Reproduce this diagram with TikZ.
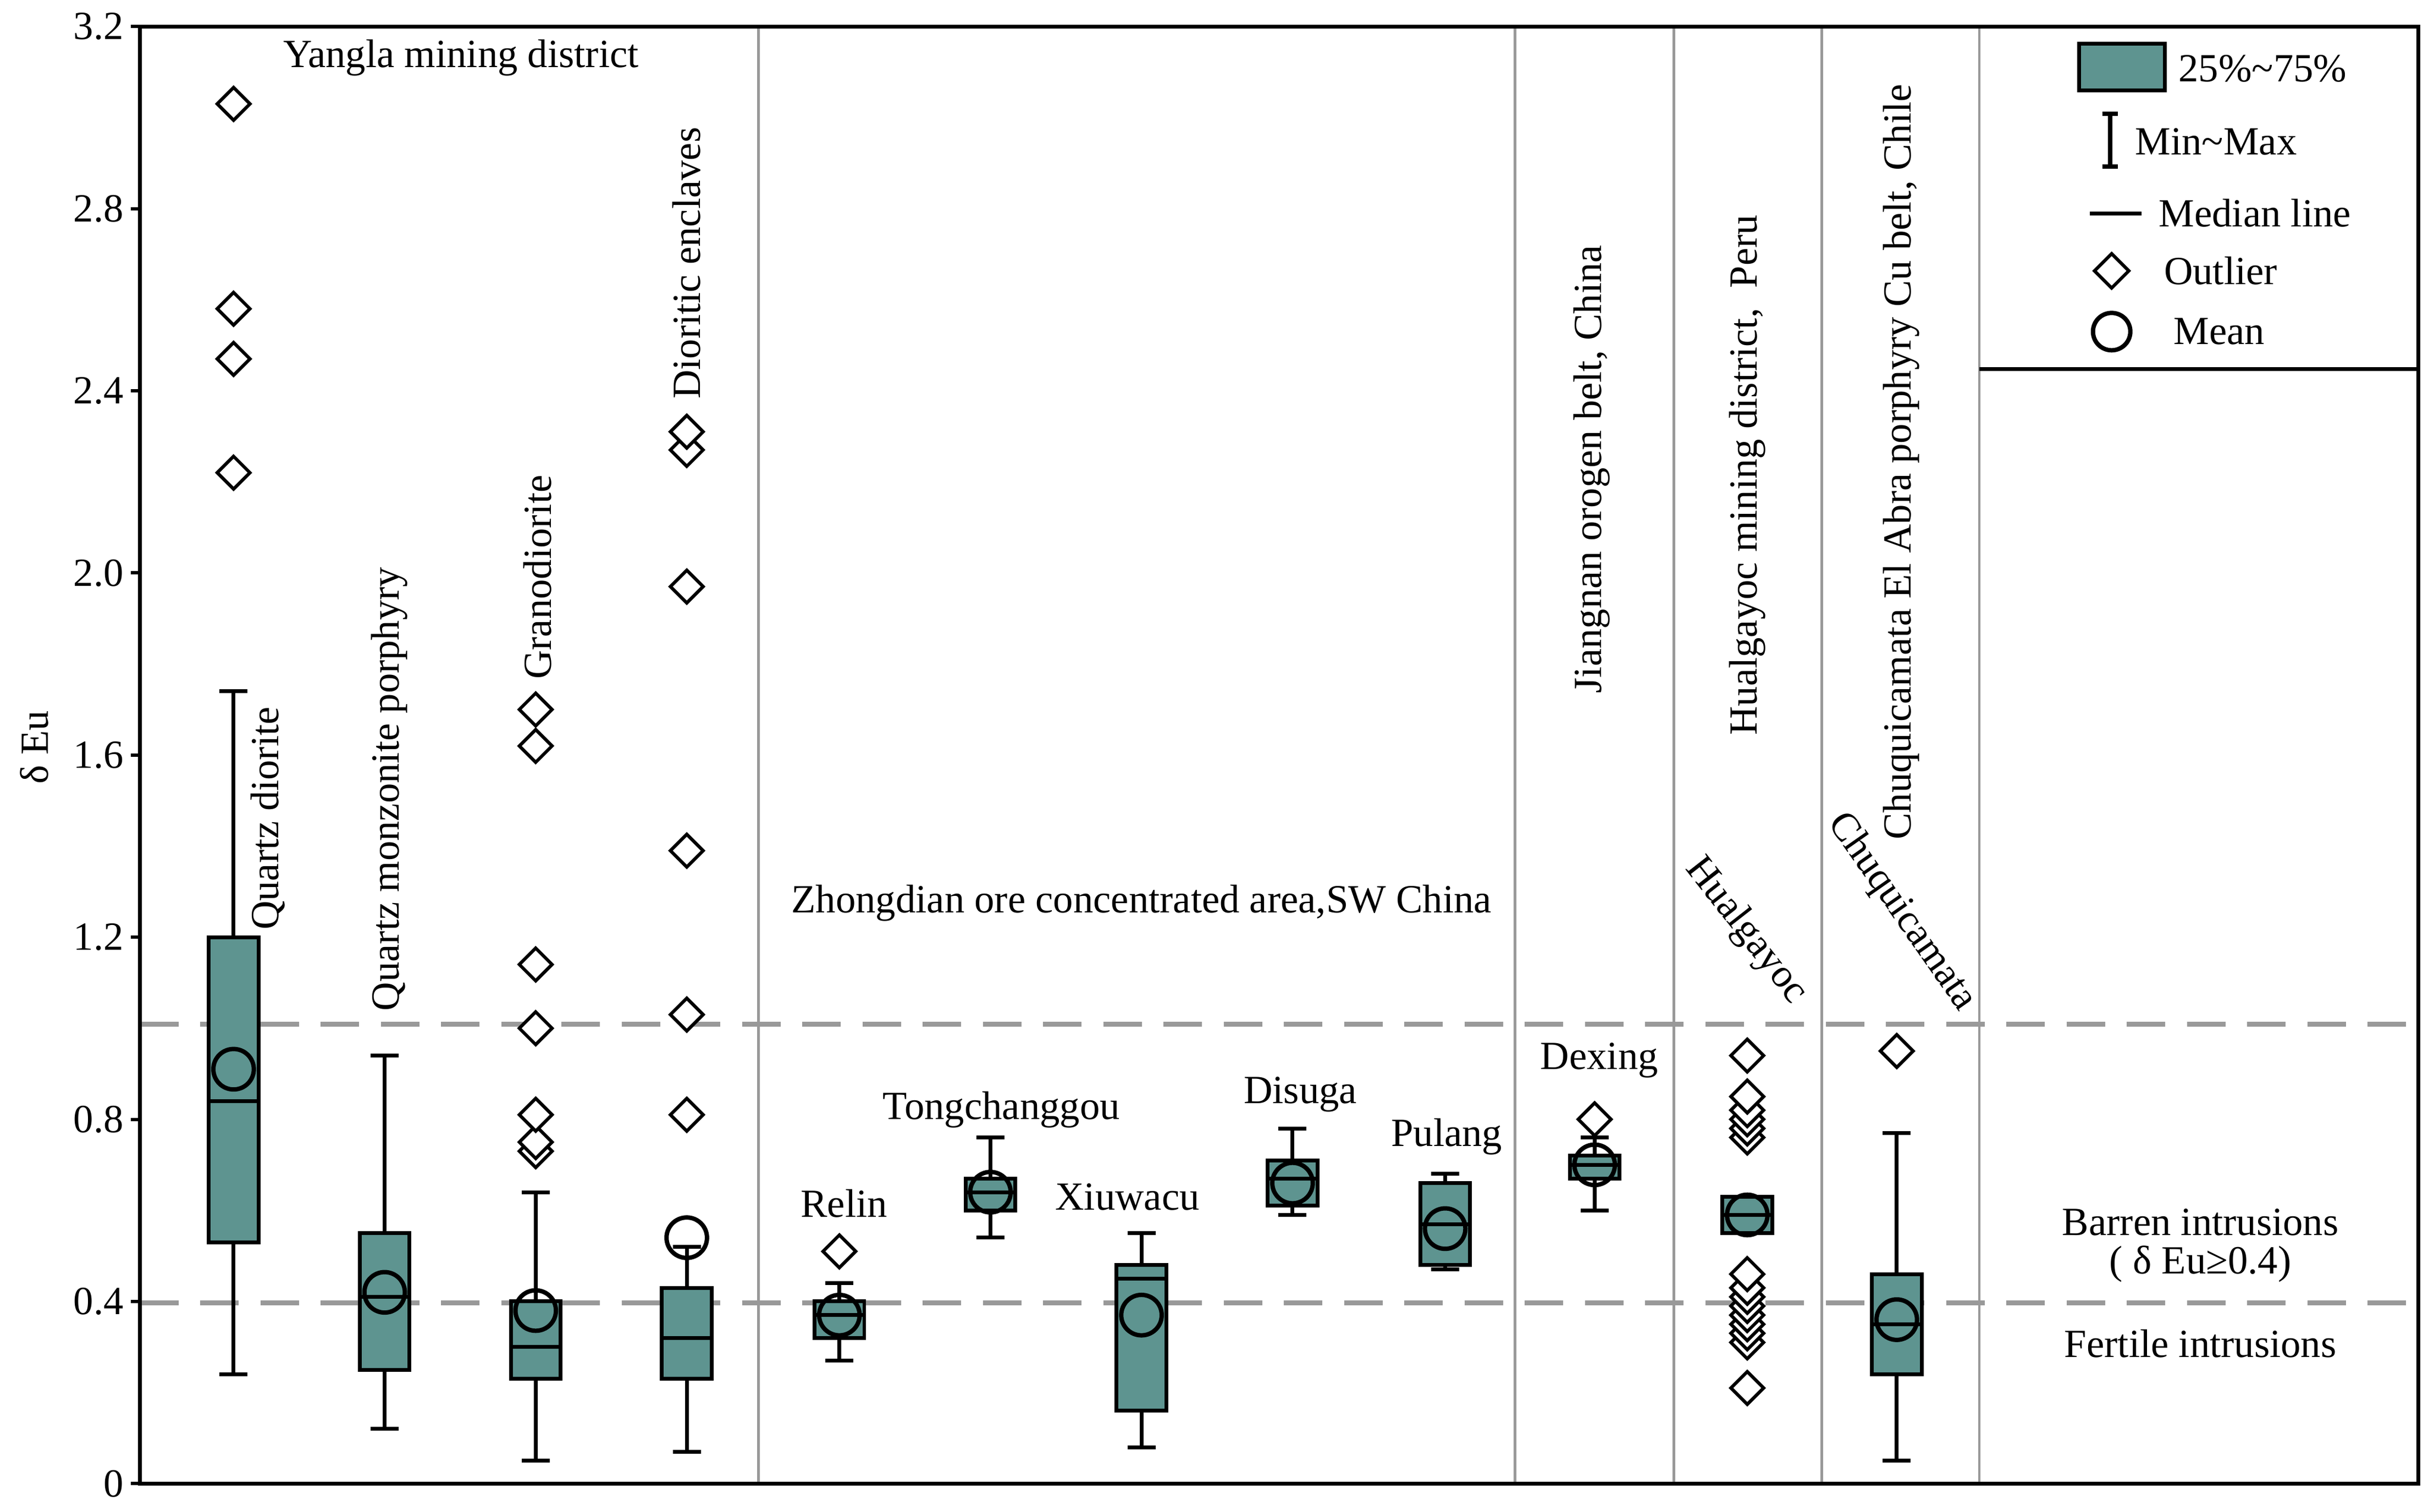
\documentclass[tikz,border=0pt]{standalone}
\usepackage{fontspec}
\setmainfont{Liberation Serif}
\begin{document}
\definecolor{teal2}{HTML}{5E9490}
\begin{tikzpicture}[x=0.1mm,y=-0.1mm,
 lab/.style={font=\fontsize{7.3}{8}\selectfont,inner sep=0pt},
 sep/.style={draw=black!40,line width=0.5pt},
 gdash/.style={draw=black!40,line width=0.9pt,dash pattern=on 7pt off 4pt},
 box/.style={fill=teal2,draw=black,line width=0.7pt},
 od/.style={draw=black,line width=0.6pt,fill=white},
]
\useasboundingbox (0,0) rectangle (1563,971);
\newcommand{\outl}[2]{\draw[od] (#1,{953-292.5*(#2)-10.5}) -- ++(10.5,10.5) -- ++(-10.5,10.5) -- ++(-10.5,-10.5) -- cycle;}
\newcommand{\mybox}[7]{%
 \draw[line width=0.7pt] (#1,{953-292.5*(#2)}) -- (#1,{953-292.5*(#3)});
 \draw[line width=0.7pt] (#1-9,{953-292.5*(#2)}) -- (#1+9,{953-292.5*(#2)});
 \draw[line width=0.7pt] (#1-9,{953-292.5*(#3)}) -- (#1+9,{953-292.5*(#3)});
 \draw[box] (#1-16,{953-292.5*(#4)}) rectangle (#1+16,{953-292.5*(#5)});
 \draw[line width=0.7pt] (#1-16,{953-292.5*(#6)}) -- (#1+16,{953-292.5*(#6)});
 \draw[line width=0.8pt] (#1,{953-292.5*(#7)}) circle (13);}
% frame
\draw[sep] (487,17) -- (487,953) (973,17) -- (973,953) (1075,17) -- (1075,953) (1170,17) -- (1170,953) (1271,17) -- (1271,953);
\draw[gdash] (90,658) -- (1553,658);
\draw[gdash] (90,837) -- (1553,837);
\draw[line width=0.7pt] (90,17) rectangle (1553,953);
\draw[line width=0.7pt] (1271,237) -- (1553,237);
\foreach \v/\t in {0/0,0.4/0.4,0.8/0.8,1.2/1.2,1.6/1.6,2.0/2.0,2.4/2.4,2.8/2.8,3.2/3.2}{
 \draw[line width=0.6pt] (90,{953-292.5*\v}) -- (84,{953-292.5*\v});
 \node[lab,anchor=east] (t\v) at (80,{953-292.5*\v}) {\t};}
\node[lab,rotate=90] (ylab) at (22,480) {δ Eu};
% boxes
\mybox{150}{0.24}{1.74}{0.53}{1.20}{0.84}{0.91}
\foreach \o in {2.22,2.47,2.58,3.03}{\outl{150}{\o}}
\mybox{247}{0.12}{0.94}{0.25}{0.55}{0.41}{0.42}
\mybox{344}{0.05}{0.64}{0.23}{0.40}{0.30}{0.38}
\foreach \o in {0.73,0.75,0.81,1.00,1.14,1.62,1.70}{\outl{344}{\o}}
\mybox{441}{0.07}{0.52}{0.23}{0.43}{0.32}{0.54}
\foreach \o in {0.81,1.03,1.39,1.97,2.27,2.31}{\outl{441}{\o}}
\mybox{539}{0.27}{0.44}{0.32}{0.40}{0.37}{0.37}
\outl{539}{0.51}
\mybox{636}{0.54}{0.76}{0.60}{0.67}{0.64}{0.64}
\mybox{733}{0.08}{0.55}{0.16}{0.48}{0.45}{0.37}
\mybox{830}{0.59}{0.78}{0.61}{0.71}{0.67}{0.66}
\mybox{928}{0.47}{0.68}{0.48}{0.66}{0.57}{0.56}
\mybox{1024}{0.60}{0.76}{0.67}{0.72}{0.70}{0.70}
\outl{1024}{0.80}
\mybox{1122}{0.55}{0.63}{0.55}{0.63}{0.59}{0.59}
\foreach \o in {0.21,0.31,0.33,0.35,0.37,0.39,0.41,0.43,0.46,0.76,0.78,0.80,0.82,0.85,0.94}{\outl{1122}{\o}}
\mybox{1218}{0.05}{0.77}{0.24}{0.46}{0.35}{0.36}
\outl{1218}{0.95}
% labels
\node[lab] (yang) at (296,37) {Yangla mining district};
\node[lab,rotate=90,anchor=west] (l1) at (172,598) {Quartz diorite};
\node[lab,rotate=90,anchor=west] (l2) at (250,650) {Quartz monzonite porphyry};
\node[lab,rotate=90,anchor=west] (l3) at (345,437) {Granodiorite};
\node[lab,rotate=90,anchor=west] (l4) at (441,257) {Dioritic enclaves};
\node[lab] (zh) at (733,580) {Zhongdian ore concentrated area,SW China};
\node[lab] (n5) at (542,773) {Relin};
\node[lab] (n6) at (643,713) {Tongchanggou};
\node[lab] (n7) at (724,769) {Xiuwacu};
\node[lab] (n8) at (835,703) {Disuga};
\node[lab] (n9) at (929,730) {Pulang};
\node[lab] (n10) at (1027,681) {Dexing};
\node[lab,rotate=90,anchor=west] (s1) at (1022,446) {Jiangnan orogen belt, China};
\node[lab,rotate=90,anchor=west] (s2) at (1122,473) {Hualgayoc mining district,\ \ Peru};
\node[lab,rotate=90,anchor=west] (s3) at (1221,540) {Chuquicamata El Abra porphyry Cu belt, Chile};
\node[lab,rotate=-52] (h) at (1121,598) {Hualgayoc};
\node[lab,rotate=-55] (c) at (1221,586) {Chuquicamata};
\node[lab] (b1) at (1413,785) {Barren intrusions};
\node[lab] (b2) at (1413,812) {( δ Eu≥0.4)};
\node[lab] (f1) at (1413,863) {Fertile intrusions};
% legend
\draw[box] (1335,28) rectangle (1390,58);
\node[lab] (lg1) at (1453,44) {25\%\textasciitilde75\%};
\draw[line width=0.8pt] (1355,73) -- (1355,107) (1350,73) -- (1360,73) (1350,107) -- (1360,107);
\node[lab] (lg2) at (1423,91) {Min\textasciitilde Max};
\draw[line width=0.7pt] (1342,137) -- (1375,137);
\node[lab] (lg3) at (1448,137) {Median line};
\draw[od] (1356,163) -- ++(11,11) -- ++(-11,11) -- ++(-11,-11) -- cycle;
\node[lab] (lg4) at (1426,174) {Outlier};
\draw[line width=0.8pt] (1356,213) circle (12);
\node[lab] (lg5) at (1425,213) {Mean};
\end{tikzpicture}
\end{document}
